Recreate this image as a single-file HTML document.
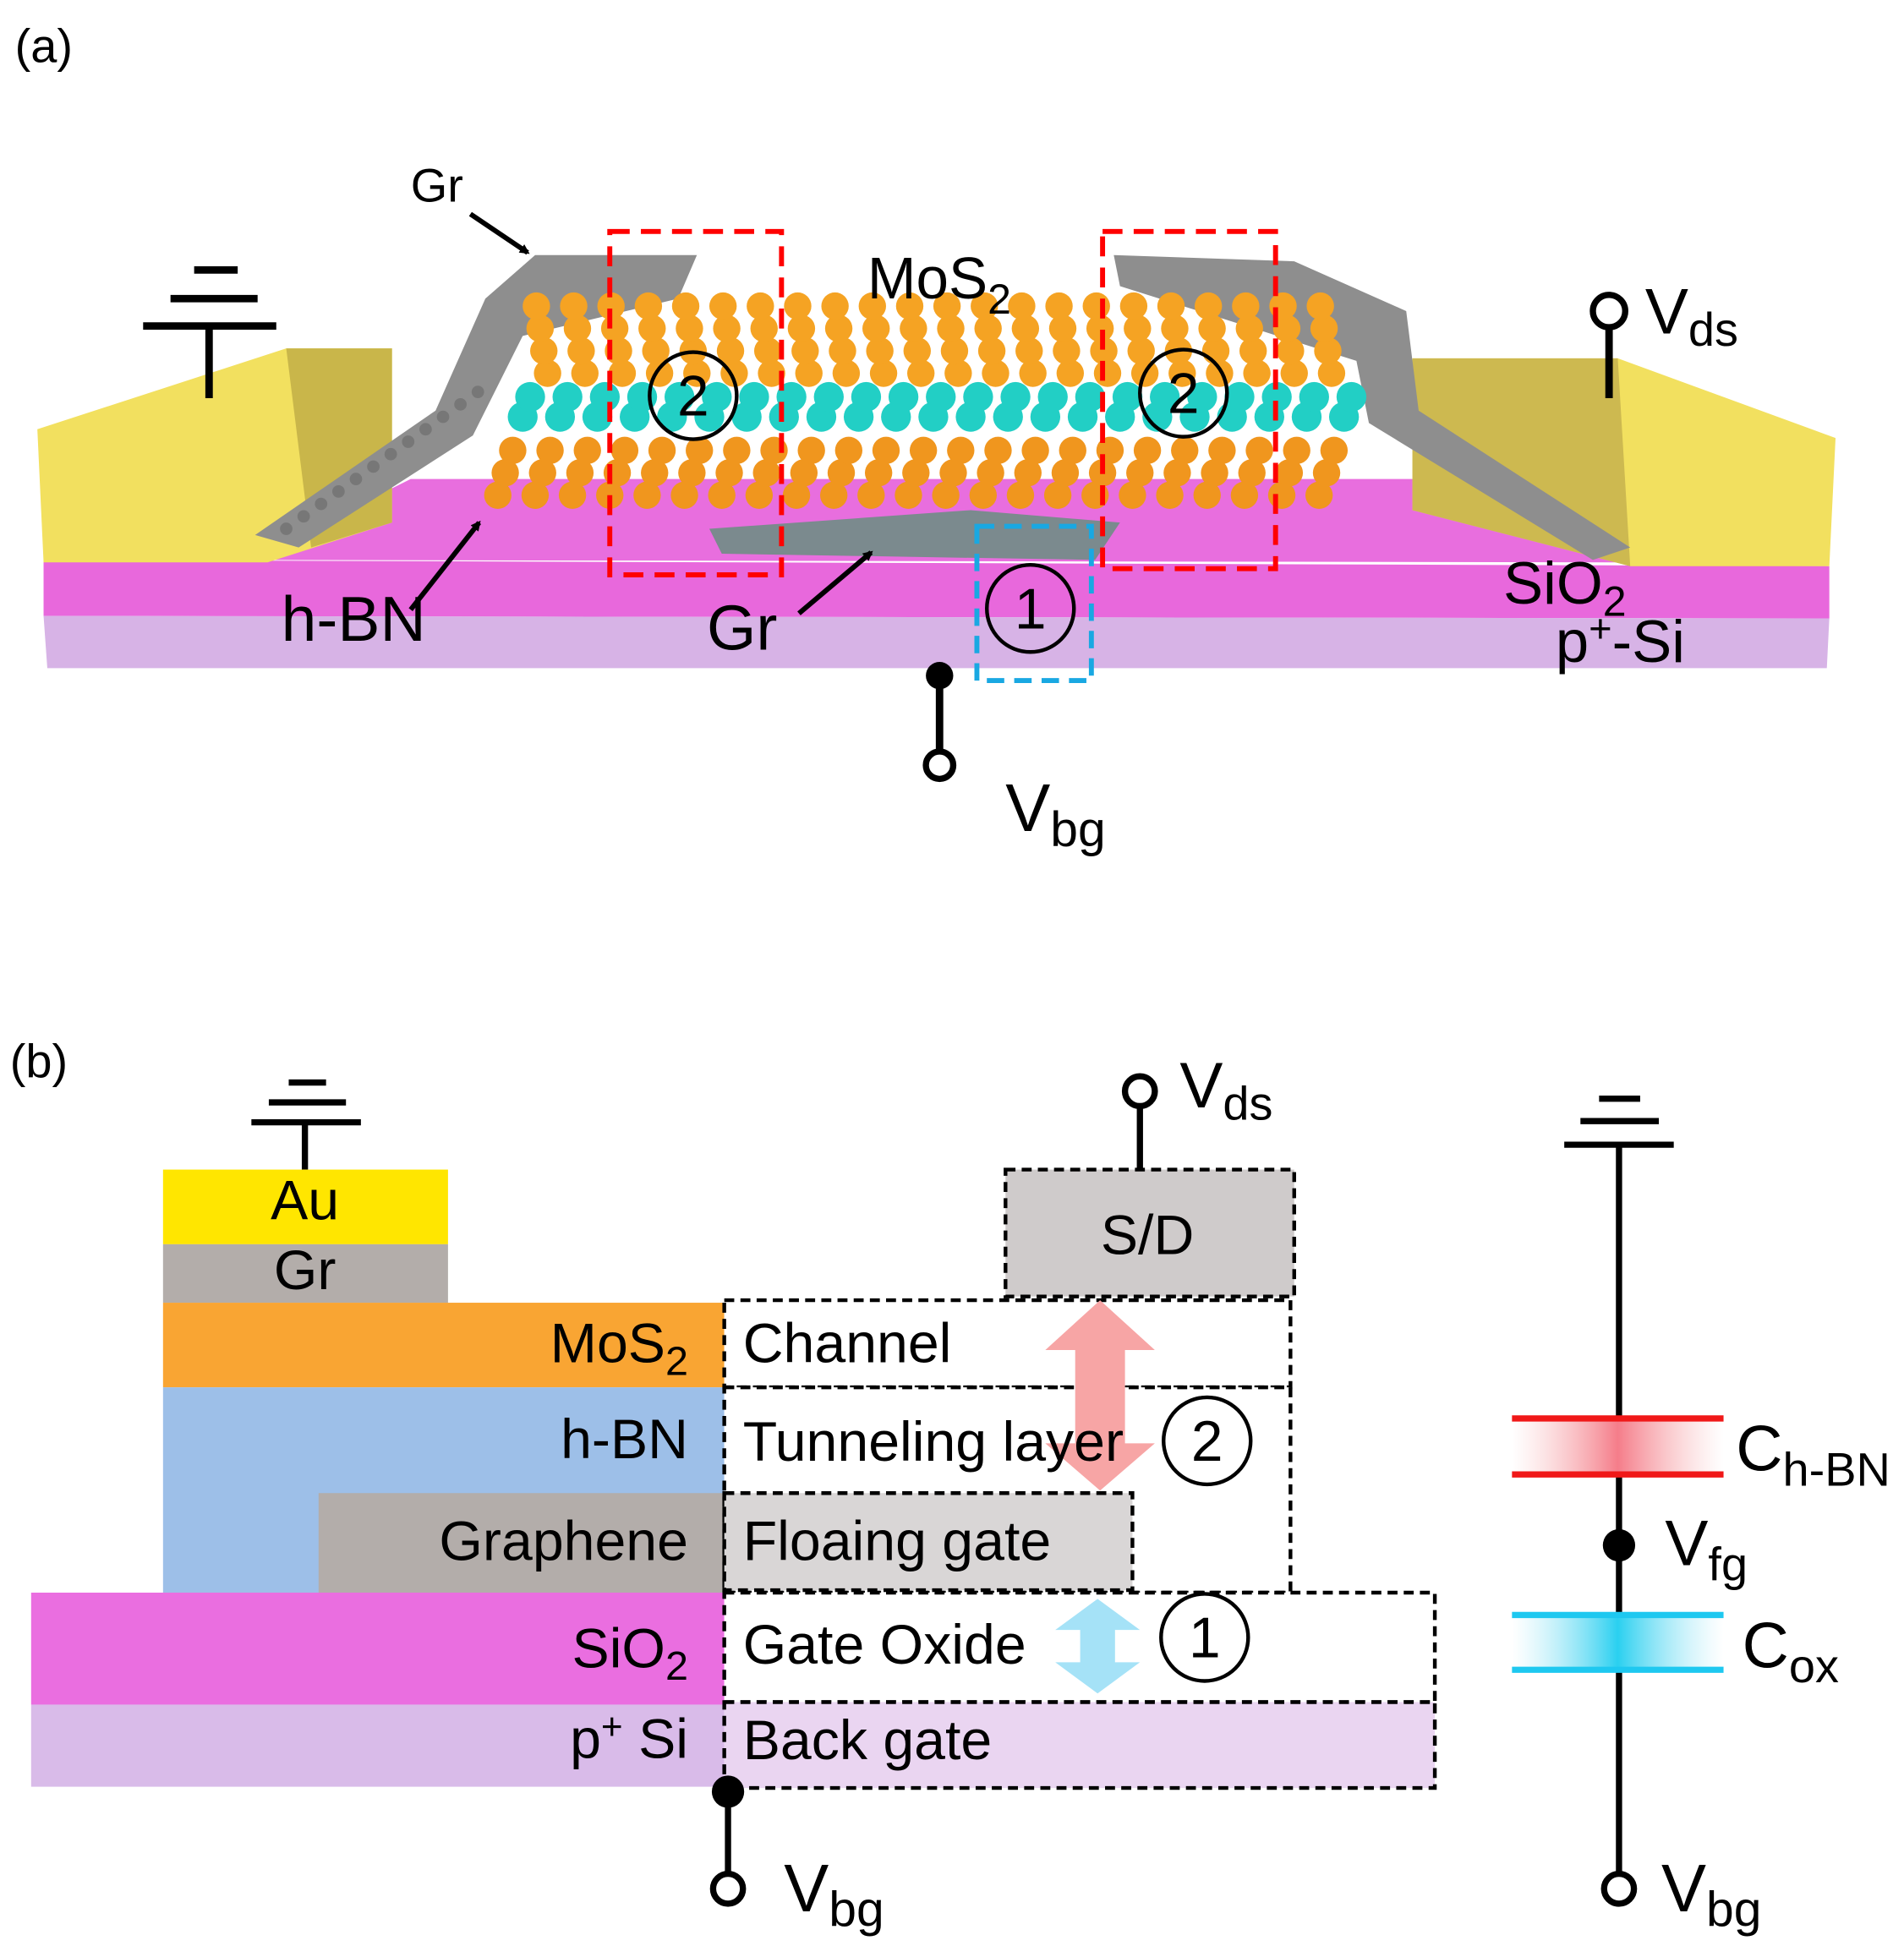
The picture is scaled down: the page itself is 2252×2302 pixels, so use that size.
<!DOCTYPE html>
<html><head><meta charset="utf-8"><style>
html,body{margin:0;padding:0;background:#fff;}
svg{display:block;}
text{font-family:"Liberation Sans",sans-serif;fill:#000;}
</style></head><body>
<svg id="s" width="2252" height="2302" viewBox="0 0 1530 1564" xmlns="http://www.w3.org/2000/svg">
<defs>
<marker id="ah" markerWidth="8" markerHeight="8" refX="6" refY="4" orient="auto" markerUnits="userSpaceOnUse" viewBox="0 0 8 8"><path d="M0,0 L8,4 L0,8 z" fill="#000"/></marker>
<linearGradient id="redg" x1="0" x2="1"><stop offset="0" stop-color="#f7b8b8" stop-opacity="0"/><stop offset="0.5" stop-color="#f57d8a"/><stop offset="1" stop-color="#f7b8b8" stop-opacity="0"/></linearGradient>
<linearGradient id="blug" x1="0" x2="1"><stop offset="0" stop-color="#9ee4f5" stop-opacity="0"/><stop offset="0.5" stop-color="#2ad0f0"/><stop offset="1" stop-color="#9ee4f5" stop-opacity="0"/></linearGradient>
</defs>

<!-- ===== (a) ===== -->
<text x="12" y="50" font-size="38">(a)</text>
<polygon points="330,385 1140,385 1310,452 200,450" fill="#e86ede"/>
<polygon points="35,450 1470,455 1470,497 35,495" fill="#e868dc"/>
<polygon points="35,495 1470,497 1468,537 38,537" fill="#d7b3e6"/>
<polygon points="30,345 230,280 315,280 315,420 215,452 35,452" fill="#f2e05f"/>
<polygon points="230,280 315,280 315,420 250,440" fill="#c9b64a"/>
<polygon points="1135,288 1300,288 1475,352 1470,455 1310,455 1135,410" fill="#f2e05f"/>
<polygon points="1135,288 1300,288 1310,455 1135,410" fill="#cdb950"/>
<polygon points="205,430 350,330 390,240 430,205 560,205 545,240 420,270 380,350 240,440" fill="#8e8e8e"/>
<polygon points="895,205 1040,210 1130,250 1140,330 1310,440 1280,450 1100,340 1090,290 900,230" fill="#8e8e8e"/>
<polygon points="570,425 780,410 900,420 880,450 580,445" fill="#7b8a8e"/>
<g id="mol"></g>
<rect x="490" y="186" width="138" height="276" fill="none" stroke="#f00" stroke-width="4" stroke-dasharray="16,9"/>
<rect x="886" y="186" width="139" height="271" fill="none" stroke="#f00" stroke-width="4" stroke-dasharray="16,9"/>
<rect x="785" y="423" width="92" height="124" fill="none" stroke="#19a8e2" stroke-width="4" stroke-dasharray="14,8"/>
<g fill="none" stroke="#000" stroke-width="3"><circle cx="557" cy="318" r="35"/><circle cx="951" cy="316" r="35"/><circle cx="828" cy="489" r="35"/></g>
<text x="557" y="334" font-size="46" text-anchor="middle">2</text>
<text x="951" y="332" font-size="46" text-anchor="middle">2</text>
<text x="828" y="505" font-size="46" text-anchor="middle">1</text>
<g stroke="#000" stroke-width="6"><line x1="156" y1="217" x2="191" y2="217"/><line x1="137" y1="240" x2="207" y2="240"/><line x1="115" y1="262" x2="222" y2="262"/><line x1="168" y1="262" x2="168" y2="320"/>
<line x1="1293" y1="263" x2="1293" y2="320"/><line x1="755" y1="543" x2="755" y2="603"/></g>
<circle cx="1293" cy="250" r="13" fill="#fff" stroke="#000" stroke-width="5"/>
<circle cx="755" cy="543" r="11" fill="#000"/>
<circle cx="755" cy="615" r="11" fill="#fff" stroke="#000" stroke-width="5"/>
<text x="1322" y="268" font-size="52">V<tspan font-size="38" dy="10">ds</tspan></text>
<text x="808" y="668" font-size="54">V<tspan font-size="40" dy="12">bg</tspan></text>
<text x="330" y="162" font-size="38">Gr</text>
<line x1="378" y1="172" x2="424" y2="203" stroke="#000" stroke-width="4" marker-end="url(#ah)"/>
<text x="697" y="240" font-size="47">MoS<tspan font-size="34" dy="12">2</tspan></text>
<text x="226" y="515" font-size="51">h-BN</text>
<line x1="330" y1="490" x2="385" y2="420" stroke="#000" stroke-width="4" marker-end="url(#ah)"/>
<text x="568" y="522" font-size="51">Gr</text>
<line x1="642" y1="493" x2="700" y2="444" stroke="#000" stroke-width="4" marker-end="url(#ah)"/>
<text x="1208" y="485" font-size="48">SiO<tspan font-size="34" dy="10">2</tspan></text>
<text x="1250" y="532" font-size="48">p<tspan font-size="32" dy="-16">+</tspan><tspan dy="16">-Si</tspan></text>

<!-- ===== (b) ===== -->
<text x="8" y="866" font-size="38">(b)</text>
<g stroke="#000" stroke-width="5"><line x1="232" y1="870" x2="262" y2="870"/><line x1="216" y1="886" x2="278" y2="886"/><line x1="202" y1="902" x2="290" y2="902"/><line x1="245" y1="902" x2="245" y2="940"/></g>
<rect x="131" y="940" width="229" height="60" fill="#ffe600"/>
<rect x="131" y="1000" width="229" height="47" fill="#b3adaa"/>
<rect x="131" y="1047" width="451" height="68" fill="#f9a533"/>
<rect x="131" y="1115" width="451" height="165" fill="#9dbfe8"/>
<rect x="256" y="1200" width="326" height="80" fill="#b3adaa"/>
<rect x="25" y="1280" width="557" height="90" fill="#ea6ee0"/>
<rect x="25" y="1370" width="557" height="66" fill="#d9bbe9"/>
<g font-size="45">
<text x="245" y="980" text-anchor="middle">Au</text>
<text x="245" y="1036" text-anchor="middle">Gr</text>
<text x="553" y="1095" text-anchor="end">MoS<tspan font-size="33" dy="10">2</tspan></text>
<text x="553" y="1172" text-anchor="end">h-BN</text>
<text x="553" y="1254" text-anchor="end">Graphene</text>
<text x="553" y="1340" text-anchor="end">SiO<tspan font-size="33" dy="10">2</tspan></text>
<text x="553" y="1413" text-anchor="end">p<tspan font-size="30" dy="-15">+</tspan><tspan dy="15"> Si</tspan></text>
</g>
<g stroke="#000" stroke-width="3" stroke-dasharray="8,5">
<rect x="808" y="940" width="232" height="102" fill="#cfcbcb"/>
<rect x="582" y="1045" width="455" height="70" fill="#fff"/>
<rect x="582" y="1115" width="455" height="165" fill="#fff"/>
<rect x="582" y="1200" width="328" height="78" fill="#d9d6d6"/>
<rect x="582" y="1280" width="571" height="88" fill="#fff"/>
<rect x="582" y="1368" width="571" height="69" fill="#ead5f1"/>
</g>
<polygon points="884,1045 928,1085 904,1085 904,1160 928,1160 884,1198 840,1160 864,1160 864,1085 840,1085" fill="#f7a5a5"/>
<polygon points="882,1285 916,1310 896,1310 896,1336 916,1336 882,1361 848,1336 868,1336 868,1310 848,1310" fill="#a5e2f7"/>
<g font-size="45">
<text x="922" y="1008" text-anchor="middle">S/D</text>
<text x="597" y="1095">Channel</text>
<text x="597" y="1174">Tunneling layer</text>
<text x="597" y="1254">Floaing gate</text>
<text x="597" y="1337">Gate Oxide</text>
<text x="597" y="1414">Back gate</text>
</g>
<g fill="none" stroke="#000" stroke-width="3"><circle cx="970" cy="1158" r="35"/><circle cx="968" cy="1316" r="35"/></g>
<text x="970" y="1174" font-size="46" text-anchor="middle">2</text>
<text x="968" y="1332" font-size="46" text-anchor="middle">1</text>
<g stroke="#000" stroke-width="5"><line x1="916" y1="889" x2="916" y2="940"/><line x1="585" y1="1440" x2="585" y2="1506"/></g>
<circle cx="916" cy="877" r="12" fill="#fff" stroke="#000" stroke-width="5"/>
<circle cx="585" cy="1440" r="13" fill="#000"/>
<circle cx="585" cy="1518" r="12" fill="#fff" stroke="#000" stroke-width="5"/>
<text x="948" y="890" font-size="52">V<tspan font-size="38" dy="10">ds</tspan></text>
<text x="630" y="1536" font-size="54">V<tspan font-size="40" dy="12">bg</tspan></text>
<rect x="1215" y="1140" width="170" height="45" fill="url(#redg)"/>
<rect x="1215" y="1298" width="170" height="44" fill="url(#blug)"/>
<g stroke="#000" stroke-width="5"><line x1="1285" y1="883" x2="1318" y2="883"/><line x1="1270" y1="901" x2="1333" y2="901"/><line x1="1257" y1="920" x2="1345" y2="920"/><line x1="1301" y1="920" x2="1301" y2="1140"/><line x1="1301" y1="1185" x2="1301" y2="1298"/><line x1="1301" y1="1342" x2="1301" y2="1506"/></g>
<g stroke-width="5"><line x1="1215" y1="1140" x2="1385" y2="1140" stroke="#f01818"/><line x1="1215" y1="1185" x2="1385" y2="1185" stroke="#f01818"/><line x1="1215" y1="1298" x2="1385" y2="1298" stroke="#1ec8f0"/><line x1="1215" y1="1342" x2="1385" y2="1342" stroke="#1ec8f0"/></g>
<circle cx="1301" cy="1242" r="13" fill="#000"/>
<circle cx="1301" cy="1518" r="12" fill="#fff" stroke="#000" stroke-width="5"/>
<text x="1395" y="1182" font-size="52">C<tspan font-size="38" dy="12">h-BN</tspan></text>
<text x="1338" y="1258" font-size="52">V<tspan font-size="38" dy="12">fg</tspan></text>
<text x="1400" y="1340" font-size="52">C<tspan font-size="38" dy="12">ox</tspan></text>
<text x="1335" y="1536" font-size="54">V<tspan font-size="40" dy="12">bg</tspan></text>
</svg>
<script>
(function(){var g=document.getElementById('mol'),ns='http://www.w3.org/2000/svg';
function c(x,y,r,f){var e=document.createElementNS(ns,'circle');e.setAttribute('cx',x);e.setAttribute('cy',y);e.setAttribute('r',r);e.setAttribute('fill',f);g.appendChild(e);}
var r,i;
for(r=0;r<3;r++)for(i=0;i<23;i++)c(400+i*30+r*6,398-r*18,11,'#f0961e');
for(r=0;r<2;r++)for(i=0;i<23;i++)c(420+i*30+r*6,335-r*16,12,'#22cfc5');
for(r=0;r<4;r++)for(i=0;i<22;i++)c(440+i*30-r*3,300-r*18,11,'#f5a323');
for(i=0;i<12;i++)c(230+i*14,425-i*10,5,'#777');
})();
</script>
</body></html>
